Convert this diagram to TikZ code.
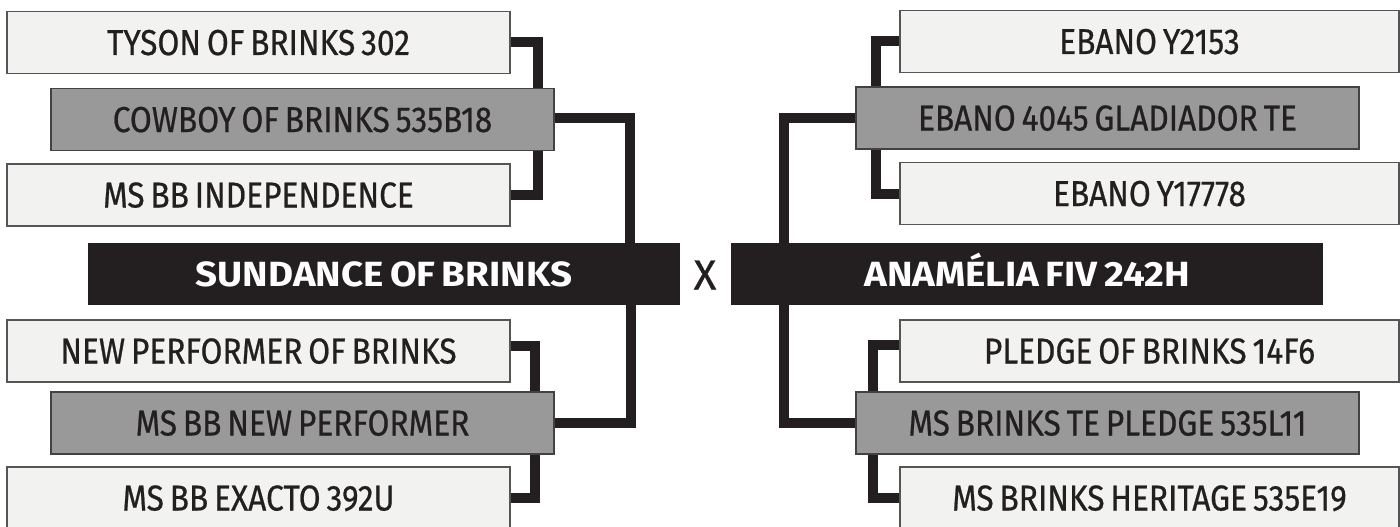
\documentclass[tikz,border=0pt]{standalone}
\usepackage{fontspec}
\setmainfont{Fira Sans}[FakeStretch=0.88, FakeBold=0.6, WordSpace=0.7]
\newfontfamily\titlefont{Fira Sans}[FakeStretch=1.1, WordSpace=0.7]
\newfontfamily\crossfont{Fira Sans}[FakeBold=0.5]
\definecolor{ink}{HTML}{231F20}
\definecolor{lightfill}{HTML}{F2F2F0}
\definecolor{midfill}{HTML}{999999}
\definecolor{edge}{HTML}{555555}
\tikzset{
  basebox/.style={rectangle, inner sep=0pt, minimum height=62pt, text=ink,
    font=\fontsize{36}{36}\selectfont, text height=25pt, text depth=0pt},
  lightbox/.style={basebox, draw=edge, line width=1.5pt, fill=lightfill, minimum width=503pt},
  rlightbox/.style={lightbox, minimum width=499pt},
  graybox/.style={basebox, draw=ink!85, line width=1.5pt, fill=midfill, minimum width=503pt},
  titlebox/.style={rectangle, inner sep=0pt, minimum height=62pt, minimum width=592pt,
    fill=ink, text=white, font=\titlefont\bfseries\fontsize{35}{35}\selectfont,
    text height=24pt, text depth=0pt},
  conn/.style={draw=ink, line width=10pt, line join=miter},
}
\begin{document}
\begin{tikzpicture}[x=1pt,y=-1pt]
\useasboundingbox (0,0) rectangle (1400,527);
\clip (0,0) rectangle (1400,527);
% left side
\node[lightbox] (tyson) at (258.5,42.5) {TYSON OF BRINKS 302};
\node[graybox] (cowboy) at (302.5,119.5) {COWBOY OF BRINKS 535B18};
\node[lightbox] (indep) at (258.5,195) {MS BB INDEPENDENCE};
\node[titlebox] (sundance) at (384,274) {SUNDANCE OF BRINKS};
\node[lightbox] (newperf) at (258.5,351) {NEW PERFORMER OF BRINKS};
\node[graybox] (msbbnp) at (302.5,423) {MS BB NEW PERFORMER};
\node[lightbox] (exacto) at (258.5,498) {MS BB EXACTO 392U};
% centre
\node[text=ink, inner sep=0pt, font=\crossfont\fontsize{42}{42}\selectfont, text height=29pt, text depth=0pt] (cross) at (705,275) {X};
% right side
\node[rlightbox] (ebanoA) at (1149.5,41.5) {EBANO Y2153};
\node[graybox] (gladiador) at (1107.5,118) {EBANO 4045 GLADIADOR TE};
\node[rlightbox] (ebanoB) at (1149.5,193.5) {EBANO Y17778};
\node[titlebox] (anamelia) at (1027,274) {ANAMÉLIA FIV 242H};
\node[rlightbox] (pledge) at (1149.5,351) {PLEDGE OF BRINKS 14F6};
\node[graybox] (tepledge) at (1107.5,423) {MS BRINKS TE PLEDGE 535L11};
\node[rlightbox] (heritage) at (1149.5,498) {MS BRINKS HERITAGE 535E19};
% connectors left
\draw[conn] (tyson.east) -| ([xshift=-17pt]cowboy.north east);
\draw[conn] (indep.east) -| ([xshift=-17pt]cowboy.south east);
\draw[conn] ([yshift=2pt]cowboy.east) -| ([xshift=-50pt]sundance.north east);
\draw[conn] ([yshift=5pt]newperf.east) -| ([xshift=-20pt]msbbnp.north east);
\draw[conn] (exacto.east) -| ([xshift=-20pt]msbbnp.south east);
\draw[conn] ([xshift=-49pt]sundance.south east) |- (msbbnp.east);
% connectors right
\draw[conn] (ebanoA.west) -| ([xshift=21pt]gladiador.north west);
\draw[conn] (ebanoB.west) -| ([xshift=21pt]gladiador.south west);
\draw[conn] (gladiador.west) -| ([xshift=53pt]anamelia.north west);
\draw[conn] ([yshift=6pt]pledge.west) -| ([xshift=18pt]tepledge.north west);
\draw[conn] (heritage.west) -| ([xshift=18pt]tepledge.south west);
\draw[conn] ([xshift=53pt]anamelia.south west) |- (tepledge.west);
\end{tikzpicture}
\end{document}
